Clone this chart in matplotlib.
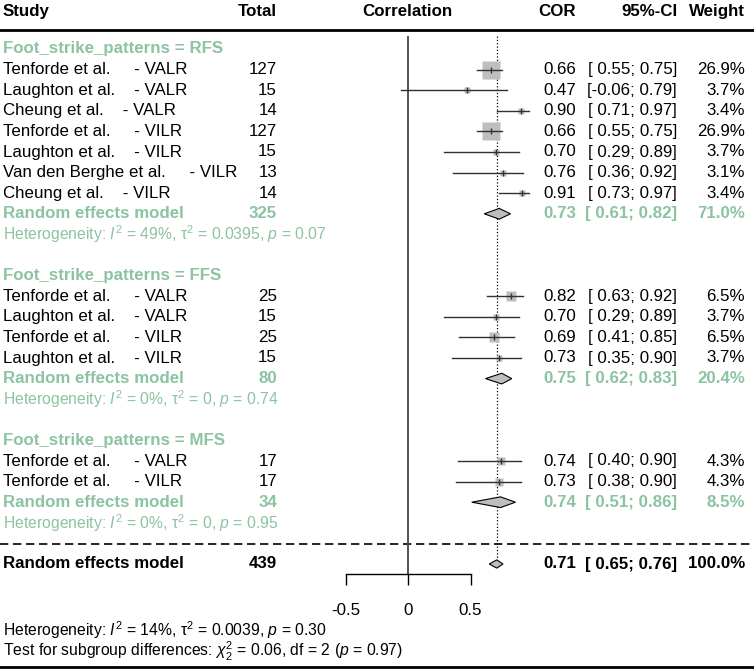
import numpy as np
import matplotlib.pyplot as plt
from matplotlib.patches import Polygon

plt.rcParams['font.family'] = ['Liberation Sans', 'DejaVu Sans']
plt.rcParams['mathtext.fontset'] = 'custom'
plt.rcParams['mathtext.rm'] = 'Liberation Sans'
plt.rcParams['mathtext.it'] = 'Liberation Sans:italic'
plt.rcParams['mathtext.bf'] = 'Liberation Sans:bold'

# subgroup RFS
rfs_study = ["Tenforde et al.     - VALR", "Laughton et al.    - VALR", "Cheung et al.    - VALR",
             "Tenforde et al.     - VILR", "Laughton et al.    - VILR", "Van den Berghe et al.     - VILR",
             "Cheung et al.    - VILR"]
rfs_total = [127, 15, 14, 127, 15, 13, 14]
rfs_cor = [0.66, 0.47, 0.90, 0.66, 0.70, 0.76, 0.91]
rfs_lo = [0.55, -0.06, 0.71, 0.55, 0.29, 0.36, 0.73]
rfs_hi = [0.75, 0.79, 0.97, 0.75, 0.89, 0.92, 0.97]
rfs_w = [26.9, 3.7, 3.4, 26.9, 3.7, 3.1, 3.4]

# subgroup FFS
ffs_study = ["Tenforde et al.     - VALR", "Laughton et al.    - VALR",
             "Tenforde et al.     - VILR", "Laughton et al.    - VILR"]
ffs_total = [25, 15, 25, 15]
ffs_cor = [0.82, 0.70, 0.69, 0.73]
ffs_lo = [0.63, 0.29, 0.41, 0.35]
ffs_hi = [0.92, 0.89, 0.85, 0.90]
ffs_w = [6.5, 3.7, 6.5, 3.7]

# subgroup MFS
mfs_study = ["Tenforde et al.     - VALR", "Tenforde et al.     - VILR"]
mfs_total = [17, 17]
mfs_cor = [0.74, 0.73]
mfs_lo = [0.40, 0.38]
mfs_hi = [0.90, 0.90]
mfs_w = [4.3, 4.3]

# subgroup summaries
sub_names = ["RFS", "FFS", "MFS"]
sub_total = [325, 80, 34]
sub_cor = [0.73, 0.75, 0.74]
sub_lo = [0.61, 0.62, 0.51]
sub_hi = [0.82, 0.83, 0.86]
sub_w = [71.0, 20.4, 8.5]
sub_i2 = ["49%", "0%", "0%"]
sub_tau2 = ["0.0395", "0", "0"]
sub_p = ["0.07", "0.74", "0.95"]

# overall
all_total = 439
all_cor, all_lo, all_hi, all_w = 0.71, 0.65, 0.76, 100.0
all_i2, all_tau2, all_p = "14%", "0.0039", "0.30"
test_chi2, test_df, test_p = "0.06", 2, "0.97"

ticks = [-0.5, 0, 0.5]

green = "#8cc3a1"
sqcol = "#bebebe"
fs = 12.2

fig = plt.figure(figsize=(7.54, 6.70), dpi=100)

# row scale: row k sits at pixel 49 + 20.6*k from the top
top_row = (0 - 49) / 20.6
bot_row = (670 - 49) / 20.6

tx = fig.add_axes([0, 0, 1, 1])
tx.set_xlim(0, 754)
tx.set_ylim(bot_row, top_row)
tx.axis('off')

# forest axes, x in correlation units (0 at px 408, 125 px per unit)
fl, fr = 330, 540
ftop, fbot = 36, 574
fx = fig.add_axes([fl / 754, (670 - fbot) / 670, (fr - fl) / 754, (fbot - ftop) / 670])
fx.set_xlim((fl - 408) / 125, (fr - 408) / 125)
fx.set_ylim((fbot - 49) / 20.6, (ftop - 49) / 20.6)
fx.patch.set_visible(False)
for s in ['top', 'right', 'left']:
    fx.spines[s].set_visible(False)
fx.spines['bottom'].set_bounds(-0.5, 0.5)
fx.spines['bottom'].set_linewidth(1.0)
fx.set_yticks([])
fx.set_xticks(ticks)
fx.set_xticklabels(["-0.5", "0", "0.5"], fontsize=fs)
fx.tick_params(axis='x', direction='out', length=8, width=1.0, pad=13)

# column positions (pixels)
x_study, x_total, x_cor, x_ci, x_w = 3, 277, 576, 677, 745

# header
hy = -1.8
tx.text(x_study, hy, "Study", fontsize=fs, fontweight='bold', va='center', ha='left')
tx.text(x_total, hy, "Total", fontsize=fs, fontweight='bold', va='center', ha='right')
tx.text(407, hy, "Correlation", fontsize=fs, fontweight='bold', va='center', ha='center')
tx.text(x_cor, hy, "COR", fontsize=fs, fontweight='bold', va='center', ha='right')
tx.text(x_ci, hy, "95%-CI", fontsize=fs, fontweight='bold', va='center', ha='right')
tx.text(x_w, hy, "Weight", fontsize=fs, fontweight='bold', va='center', ha='right')
tx.axhline(-0.92, color='black', lw=2)
tx.axhline((667 - 49) / 20.6, color='black', lw=2)


def ci_text(lo, hi):
    a = "%.2f" % lo
    if lo >= 0:
        a = " " + a
    return "[%s; %.2f]" % (a, hi)


def diamond(ax, y, est, lo, hi, h=0.26):
    pts = [(lo, y), (est, y - h), (hi, y), (est, y + h)]
    ax.add_patch(Polygon(pts, closed=True, facecolor=sqcol, edgecolor='black', lw=0.8, zorder=3))


groups = [
    (rfs_study, rfs_total, rfs_cor, rfs_lo, rfs_hi, rfs_w),
    (ffs_study, ffs_total, ffs_cor, ffs_lo, ffs_hi, ffs_w),
    (mfs_study, mfs_total, mfs_cor, mfs_lo, mfs_hi, mfs_w),
]

row = 0
for g, (study, total, cor, lo, hi, w) in enumerate(groups):
    tx.text(x_study, row, "Foot_strike_patterns = " + sub_names[g], fontsize=fs,
            fontweight='bold', color=green, va='center')
    row += 1
    for i in range(len(study)):
        tx.text(x_study, row, study[i], fontsize=fs, va='center')
        tx.text(x_total, row, str(total[i]), fontsize=fs, va='center', ha='right')
        tx.text(x_cor, row, "%.2f" % cor[i], fontsize=fs, va='center', ha='right')
        tx.text(x_ci, row, ci_text(lo[i], hi[i]), fontsize=fs, va='center', ha='right')
        tx.text(x_w, row, "%.1f%%" % w[i], fontsize=fs, va='center', ha='right')
        ms = 13.2 * np.sqrt(w[i] / 26.9)
        fx.plot(cor[i], row, 's', ms=ms, color=sqcol, mec='none', zorder=2)
        fx.plot([lo[i], hi[i]], [row, row], color='#303030', lw=1.0, zorder=3)
        fx.plot(cor[i], row, '|', ms=5, mew=1.0, color='#303030', zorder=4)
        row += 1
    # subgroup summary
    tx.text(x_study, row, "Random effects model", fontsize=fs, fontweight='bold', color=green, va='center')
    tx.text(x_total, row, str(sub_total[g]), fontsize=fs, fontweight='bold', color=green, va='center', ha='right')
    tx.text(x_cor, row, "%.2f" % sub_cor[g], fontsize=fs, fontweight='bold', color=green, va='center', ha='right')
    tx.text(x_ci, row, ci_text(sub_lo[g], sub_hi[g]), fontsize=fs, fontweight='bold', color=green,
            va='center', ha='right')
    tx.text(x_w, row, "%.1f%%" % sub_w[g], fontsize=fs, fontweight='bold', color=green, va='center', ha='right')
    diamond(fx, row, sub_cor[g], sub_lo[g], sub_hi[g])
    row += 1
    tx.text(x_study, row, r"Heterogeneity: $I^2$ = %s, $\mathrm{\tau}^2$ = %s, $p$ = %s"
            % (sub_i2[g], sub_tau2[g], sub_p[g]), fontsize=fs - 0.9, color=green, va='center')
    row += 2

# overall
tx.axhline(row - 0.95, color='black', lw=1.2, ls=(0, (5, 2.8)))
tx.text(x_study, row, "Random effects model", fontsize=fs, fontweight='bold', va='center')
tx.text(x_total, row, str(all_total), fontsize=fs, fontweight='bold', va='center', ha='right')
tx.text(x_cor, row, "%.2f" % all_cor, fontsize=fs, fontweight='bold', va='center', ha='right')
tx.text(x_ci, row, ci_text(all_lo, all_hi), fontsize=fs, fontweight='bold', va='center', ha='right')
tx.text(x_w, row, "%.1f%%" % all_w, fontsize=fs, fontweight='bold', va='center', ha='right')
diamond(fx, row, all_cor, all_lo, all_hi, h=0.2)

# reference lines
fx.axvline(0, color='#444444', lw=1.3, zorder=1)
fx.plot([all_cor, all_cor], [(ftop - 49) / 20.6, row - 0.2], color='black', lw=0.9, ls=':', zorder=1)

tx.text(x_study, (630 - 49) / 20.6, r"Heterogeneity: $I^2$ = %s, $\mathrm{\tau}^2$ = %s, $p$ = %s"
        % (all_i2, all_tau2, all_p), fontsize=fs - 0.9, va='center')
tx.text(x_study, (651 - 49) / 20.6, r"Test for subgroup differences: $\chi^2_2$ = %s, df = %d ($p$ = %s)"
        % (test_chi2, test_df, test_p), fontsize=fs - 0.9, va='center')

fig.savefig("out.png", dpi=100)
